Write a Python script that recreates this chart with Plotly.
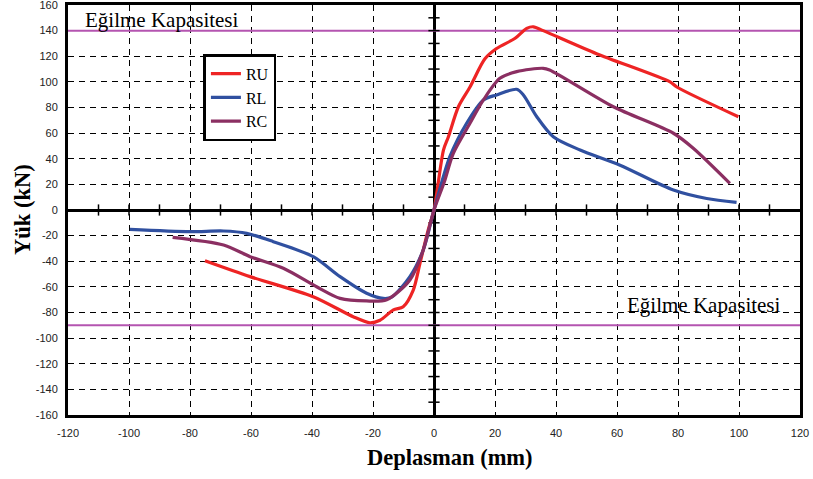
import plotly.graph_objects as go

# Data (displacement mm, load kN)
ru_x = [-75.1, -60.3, -39.6, -26.5, -21.0, -17.7, -13.3, -10.1, -6.8, -4.6, -1.9, 0,
        3.1, 4.7, 8.0, 11.8, 16.7, 20.5, 26.6, 30.4, 32.6, 35.8, 53.3, 77.4, 79.6, 99.8]
ru_y = [-39.6, -52.0, -67.7, -83.3, -88.0, -86.0, -78.0, -75.5, -62.5, -41.6, -15.6, 0,
        46.8, 57.0, 80.6, 96.0, 118.0, 126.0, 134.0, 141.8, 143.0, 140.0, 122.0, 100.0, 96.0, 72.8]

rl_x = [-99.7, -80.0, -69.0, -61.4, -52.7, -39.6, -30.8, -22.1, -16.6, -13.9, -7.9, -3.5, 0,
        5.2, 10.7, 16.2, 20.5, 27.1, 29.3, 33.7, 39.1, 47.9, 61.0, 78.5, 89.4, 99.2]
rl_y = [-15.1, -16.9, -16.4, -18.2, -24.7, -36.4, -52.0, -65.0, -69.0, -68.0, -52.0, -31.0, 0,
        41.6, 67.7, 85.9, 89.8, 94.2, 89.8, 72.8, 57.2, 46.8, 35.0, 15.6, 9.0, 6.0]

rc_x = [-85.7, -69.0, -60.3, -49.4, -38.5, -30.8, -22.1, -15.5, -7.9, -3.5, 0,
        3.4, 6.3, 11.8, 16.2, 21.6, 27.1, 35.8, 37.9, 58.8, 78.5, 85.0, 97.0]
rc_y = [-21.3, -27.3, -36.4, -45.5, -59.9, -69.0, -71.0, -70.0, -54.6, -31.0, 0,
        22.0, 44.0, 67.7, 85.9, 102.8, 108.0, 110.6, 109.3, 80.6, 59.9, 48.2, 20.8]

capacity_pos = 140
capacity_neg = -90
capacity_label = "Eğilme Kapasitesi"
x_title = "Deplasman (mm)"
y_title = "Yük (kN)"
x_range = [-120, 120]
y_range = [-160, 160]
x_ticks = list(range(-120, 121, 20))
y_ticks = list(range(-160, 161, 20))
x_ticktext = [str(v) for v in x_ticks]
y_ticktext = [str(v) for v in y_ticks]
minor_x = [v for v in range(-110, 111, 10) if v != 0]
minor_y = [v for v in range(-150, 151, 10) if v != 0]

fig = go.Figure()

# capacity lines
for cy in (capacity_pos, capacity_neg):
    fig.add_trace(go.Scatter(x=x_range, y=[cy, cy], mode="lines",
                             line=dict(color="#B455B0", width=2),
                             showlegend=False, hoverinfo="skip"))

# cross ticks on zero axes
fig.add_trace(go.Scatter(x=minor_x, y=[0]*len(minor_x), mode="markers",
                         marker=dict(symbol="line-ns-open", size=8, color="black",
                                     line=dict(color="black", width=1.5)),
                         showlegend=False, hoverinfo="skip"))
fig.add_trace(go.Scatter(x=[0]*len(minor_y), y=minor_y, mode="markers",
                         marker=dict(symbol="line-ew-open", size=8, color="black",
                                     line=dict(color="black", width=1.5)),
                         showlegend=False, hoverinfo="skip"))

series = [("RU", ru_x, ru_y, "#EE2424"),
          ("RL", rl_x, rl_y, "#3050A0"),
          ("RC", rc_x, rc_y, "#8B2F62")]
for name, xs, ys, col in series:
    fig.add_trace(go.Scatter(x=xs, y=ys, mode="lines", name=name, legendgroup=name,
                             line=dict(color=col, width=3.2, shape="spline", smoothing=0.8)))

axis_common = dict(
    showline=True, linecolor="black", linewidth=3, mirror=True,
    showgrid=True, gridcolor="black", gridwidth=1, griddash="6px,5px",
    zeroline=True, zerolinecolor="black", zerolinewidth=2.5,
    ticks="", automargin=False, ticklabeloverflow="allow",
    tickfont=dict(family="Liberation Sans", size=11, color="#222"),
)

fig.update_xaxes(range=x_range, tickvals=x_ticks, ticktext=x_ticktext,
                 ticklabelstandoff=6, **axis_common)
fig.update_yaxes(range=y_range, tickvals=y_ticks, ticktext=y_ticktext,
                 ticklabelstandoff=5, **axis_common)

title_font = dict(family="Liberation Serif", size=22.5, color="black", weight="bold")
fig.add_annotation(xref="paper", yref="paper", x=0.522, y=0, yshift=-42,
                   text=x_title, showarrow=False, xanchor="center", yanchor="middle",
                   font=title_font)
fig.add_annotation(xref="paper", yref="paper", x=0, xshift=-46, y=0.5,
                   text=y_title, showarrow=False, textangle=-90,
                   xanchor="center", yanchor="middle", font=title_font)

fig.add_annotation(x=-115, y=capacity_pos, text=capacity_label, showarrow=False,
                   xanchor="left", yanchor="bottom", yshift=-3,
                   font=dict(family="Liberation Serif", size=21, color="black"))
fig.add_annotation(x=114.5, y=capacity_neg, text=capacity_label, showarrow=False,
                   xanchor="right", yanchor="bottom", yshift=6,
                   font=dict(family="Liberation Serif", size=21, color="black"))

fig.update_layout(
    width=813, height=479,
    margin=dict(l=68, r=13, t=5, b=64),
    paper_bgcolor="white", plot_bgcolor="white",
    legend=dict(x=0.185, y=0.880, xanchor="left", yanchor="top",
                bordercolor="black", borderwidth=2.5, bgcolor="white",
                font=dict(family="Liberation Serif", size=16, color="black"),
                tracegroupgap=0, itemwidth=30, entrywidth=60),
    showlegend=True,
)

fig.write_html("out.html")
